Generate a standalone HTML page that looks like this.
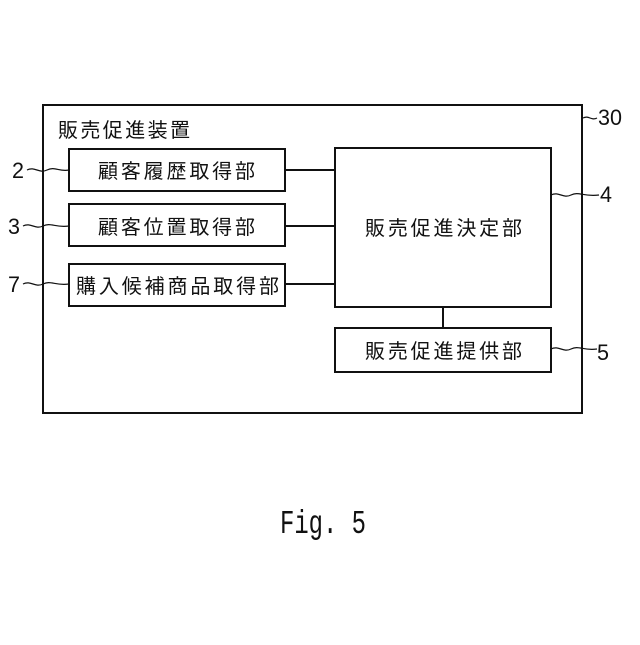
<!DOCTYPE html>
<html><head><meta charset="utf-8"><style>body{margin:0;background:#fff}</style></head>
<body>
<svg width="640" height="640" viewBox="0 0 640 640" xmlns="http://www.w3.org/2000/svg" font-family="'Liberation Sans','Noto Sans CJK JP',sans-serif" fill="#111">
<g fill="none" stroke="#111" stroke-width="2">
<rect x="43" y="105" width="539" height="308"/>
<rect x="69" y="149" width="216" height="42"/>
<rect x="69" y="204" width="216" height="42"/>
<rect x="69" y="264" width="216" height="42"/>
<rect x="335" y="148" width="216" height="159"/>
<rect x="335" y="328" width="216" height="44"/>
<path d="M285 170H335M285 226H335M285 284H335M443 307V328"/>
<g stroke-width="1.2">
<path d="M27 170c8-4 12 4 20 0s12 2 22 0"/>
<path d="M23 226c8-4 12 4 20 0s12 2 26 0"/>
<path d="M23 284c8-4 12 4 20 0s12 2 26 0"/>
<path d="M583 118c6-3 8 3 14 0"/>
<path d="M551 195c8-4 12 4 20 0s12 2 28 0"/>
<path d="M551 349c8-4 12 4 20 0s12 2 26 0"/>
</g>
</g>
<g font-size="20" lengthAdjust="spacing">
<text x="58" y="137" textLength="132">販売促進装置</text>
<text x="98" y="178" textLength="157">顧客履歴取得部</text>
<text x="98" y="234" textLength="157">顧客位置取得部</text>
<text x="76" y="293" textLength="203">購入候補商品取得部</text>
<text x="365" y="235" textLength="157">販売促進決定部</text>
<text x="365" y="358" textLength="157">販売促進提供部</text>
</g>
<g font-size="22">
<text x="12" y="178" textLength="12" lengthAdjust="spacingAndGlyphs">2</text>
<text x="8" y="234" textLength="12" lengthAdjust="spacingAndGlyphs">3</text>
<text x="8" y="292" textLength="12" lengthAdjust="spacingAndGlyphs">7</text>
<text x="598" y="125" textLength="24" lengthAdjust="spacingAndGlyphs">30</text>
<text x="600" y="202" textLength="12" lengthAdjust="spacingAndGlyphs">4</text>
<text x="597" y="360" textLength="12" lengthAdjust="spacingAndGlyphs">5</text>
</g>
<text x="280" y="533" font-family="'Liberation Mono',monospace" font-size="33" textLength="86" lengthAdjust="spacingAndGlyphs">Fig. 5</text>
</svg>
</body></html>
